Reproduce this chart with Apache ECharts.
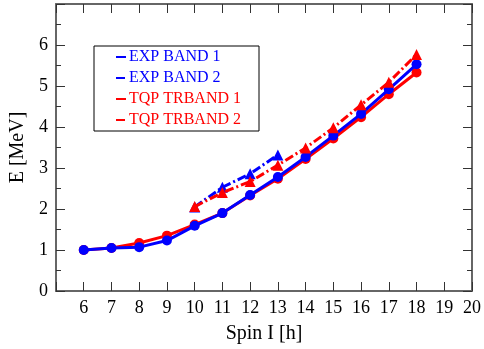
<!DOCTYPE html>
<html>
<head>
<meta charset="utf-8">
<script src="https://cdn.jsdelivr.net/npm/echarts@6/dist/echarts.min.js"></script>
<style>
  html, body { margin: 0; padding: 0; background: #fff; }
  #chart { width: 484px; height: 349px; }
</style>
</head>
<body>
<div id="chart"></div>
<script>
// spins and energies
const spins = [6, 7, 8, 9, 10, 11, 12, 13, 14, 15, 16, 17, 18];
const spinsBand2 = [10, 11, 12, 13];
const spinsTrBand2 = [10, 11, 12, 13, 14, 15, 16, 17, 18];

const expBand1 = [1.00, 1.05, 1.07, 1.23, 1.59, 1.90, 2.34, 2.78, 3.27, 3.79, 4.32, 4.92, 5.53];
const expBand2 = [2.05, 2.53, 2.86, 3.32];
const tqpTrBand1 = [1.00, 1.05, 1.17, 1.35, 1.62, 1.90, 2.33, 2.74, 3.22, 3.72, 4.24, 4.80, 5.33];
const tqpTrBand2 = [2.06, 2.40, 2.67, 3.07, 3.49, 3.98, 4.54, 5.09, 5.77];

const BLUE = '#0000ff';
const RED = '#ff0000';
const AXIS = '#666666';
const FONT = 'Liberation Serif';
const dashDot = [9, 3, 2, 3];

const zip = (xs, ys) => xs.map((x, i) => [x, ys[i]]);

const chart = echarts.init(document.getElementById('chart'));

const baseX = {
  type: 'value',
  min: 5,
  max: 20,
  interval: 1,
  axisLine: { show: true, onZero: false, lineStyle: { color: AXIS, width: 2 } },
  axisTick: { show: true, inside: true, length: 9, lineStyle: { color: '#333', width: 1 } },
  splitLine: { show: false }
};
const baseY = {
  type: 'value',
  min: 0,
  max: 7,
  interval: 1,
  axisLine: { show: true, onZero: false, lineStyle: { color: AXIS, width: 2 } },
  axisTick: { show: true, inside: true, length: 9, lineStyle: { color: '#333', width: 1 } },
  minorTick: { show: true, splitNumber: 2, length: 5, lineStyle: { color: '#333', width: 1 } },
  splitLine: { show: false }
};

const option = {
  animation: false,
  backgroundColor: '#fff',
  textStyle: { fontFamily: FONT },
  grid: { left: 52, right: 8, top: 4, bottom: 58 },
  legend: {
    orient: 'vertical',
    left: 94,
    top: 46,
    padding: [3, 18, 3, 21],
    borderColor: '#000',
    borderWidth: 1,
    itemWidth: 10,
    itemHeight: 14,
    itemGap: 5,
    itemStyle: { opacity: 0 },
    textStyle: { fontFamily: FONT, fontSize: 16, padding: [0, 0, 0, -2] },
    data: [
      { name: 'EXP BAND 1', textStyle: { color: BLUE } },
      { name: 'EXP BAND 2', textStyle: { color: BLUE } },
      { name: 'TQP TRBAND 1', textStyle: { color: RED } },
      { name: 'TQP TRBAND 2', textStyle: { color: RED } }
    ]
  },
  xAxis: [
    Object.assign({}, baseX, {
      position: 'bottom',
      name: 'Spin I [h]',
      nameLocation: 'middle',
      nameGap: 33,
      nameTextStyle: { fontFamily: FONT, fontSize: 20, color: '#000' },
      axisLabel: {
        fontFamily: FONT, fontSize: 18, color: '#000', margin: 8,
        formatter: v => (v === 5 ? '' : v)
      }
    }),
    Object.assign({}, baseX, { position: 'top', axisLabel: { show: false } })
  ],
  yAxis: [
    Object.assign({}, baseY, {
      position: 'left',
      name: 'E [MeV]',
      nameLocation: 'middle',
      nameGap: 28,
      nameTextStyle: { fontFamily: FONT, fontSize: 20, color: '#000' },
      axisLabel: {
        fontFamily: FONT, fontSize: 18, color: '#000', margin: 8,
        formatter: v => (v === 7 ? '' : v)
      }
    }),
    Object.assign({}, baseY, { position: 'right', axisLabel: { show: false } })
  ],
  series: [
    {
      name: 'TQP TRBAND 1',
      type: 'line',
      data: zip(spins, tqpTrBand1),
      color: RED,
      symbol: 'circle',
      symbolSize: 10,
      lineStyle: { width: 3, type: 'solid' },
      z: 2
    },
    {
      name: 'EXP BAND 1',
      type: 'line',
      data: zip(spins, expBand1),
      color: BLUE,
      symbol: 'circle',
      symbolSize: 10,
      lineStyle: { width: 3, type: 'solid' },
      z: 3
    },
    {
      name: 'EXP BAND 2',
      type: 'line',
      data: zip(spinsBand2, expBand2),
      color: BLUE,
      symbol: 'triangle',
      symbolSize: 11,
      lineStyle: { width: 3, type: dashDot },
      z: 4
    },
    {
      name: 'TQP TRBAND 2',
      type: 'line',
      data: zip(spinsTrBand2, tqpTrBand2),
      color: RED,
      symbol: 'triangle',
      symbolSize: 11,
      lineStyle: { width: 3, type: dashDot },
      z: 5
    }
  ]
};

chart.setOption(option);
</script>
</body>
</html>
